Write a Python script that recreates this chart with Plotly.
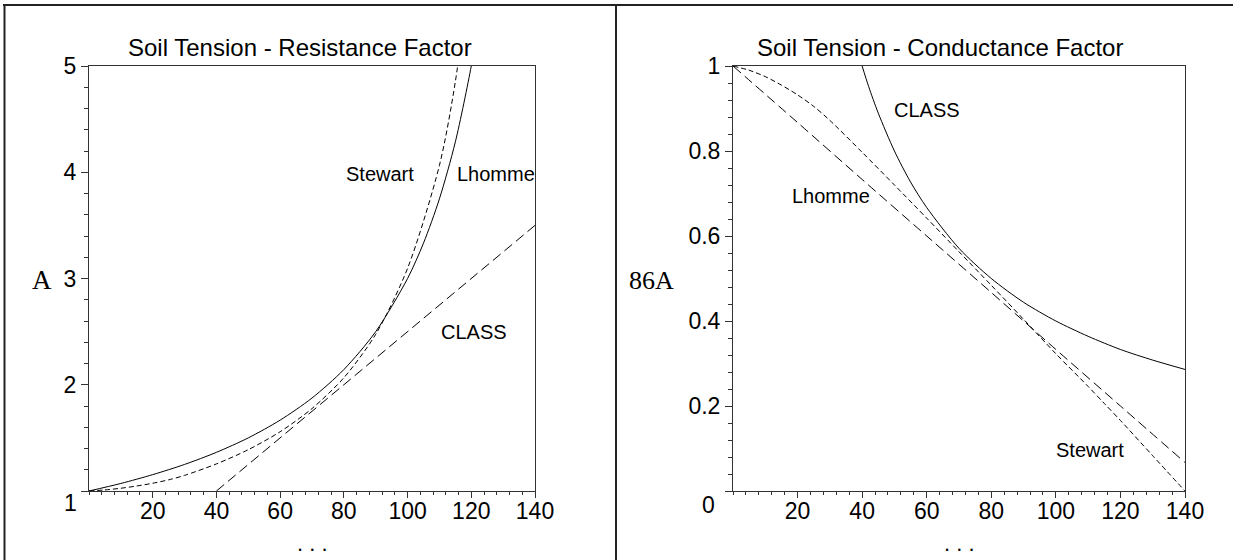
import plotly.graph_objects as go

W, H = 1233, 560
SANS = "Liberation Sans, Arial, Helvetica, sans-serif"
SERIF = "Liberation Serif, Times New Roman, serif"

# ---------------- data ----------------
# Left panel: Soil Tension - Resistance Factor
res_lhomme_x = [0, 10, 20, 30, 40, 50, 60, 70, 80, 90, 100, 105, 110, 115, 120, 122]
res_lhomme_y = [1.0, 1.071, 1.154, 1.25, 1.364, 1.5, 1.667, 1.875, 2.143, 2.5, 3.0, 3.333, 3.75, 4.286, 5.0, 5.36]

res_stewart_x = [0, 5, 10, 15, 20, 25, 30, 40, 50, 60, 70, 80, 90, 100, 110, 115, 120]
res_stewart_y = [1.0, 1.01, 1.026, 1.047, 1.073, 1.105, 1.147, 1.255, 1.389, 1.558, 1.776, 2.066, 2.475, 3.096, 4.065, 4.854, 6.02]

res_class_x = [40, 140]
res_class_y = [1.0, 3.5]

# Right panel: Soil Tension - Conductance Factor
con_class_x = [40, 42, 45, 50, 55, 60, 70, 80, 90, 100, 110, 120, 130, 140]
con_class_y = [1.0, 0.952, 0.889, 0.8, 0.727, 0.667, 0.571, 0.5, 0.444, 0.4, 0.364, 0.333, 0.308, 0.286]

con_lhomme_x = [0, 20, 40, 60, 80, 100, 120, 140]
con_lhomme_y = [1.0, 0.867, 0.733, 0.6, 0.467, 0.333, 0.2, 0.067]

con_stewart_x = [0, 5, 10, 15, 20, 25, 30, 40, 50, 60, 70, 80, 90, 100, 110, 115, 120, 130, 140]
con_stewart_y = [1.0, 0.99, 0.975, 0.955, 0.932, 0.905, 0.872, 0.797, 0.72, 0.642, 0.563, 0.484, 0.404, 0.323, 0.246, 0.206, 0.166, 0.083, 0.0]

x_ticks = [20, 40, 60, 80, 100, 120, 140]
left_y_ticks = [1, 2, 3, 4, 5]
left_y_text = ["", "2", "3", "4", "5"]
right_y_ticks = [0, 0.2, 0.4, 0.6, 0.8, 1]
right_y_text = ["", "0.2", "0.4", "0.6", "0.8", "1"]

titles = ["Soil Tension - Resistance Factor", "Soil Tension - Conductance Factor"]
y_titles = ["A", "86A"]

# ---------------- figure ----------------
fig = go.Figure()


def line(x, y, dash, xa, ya):
    fig.add_trace(go.Scatter(
        x=x, y=y, mode="lines", xaxis=xa, yaxis=ya, showlegend=False,
        hoverinfo="skip",
        line=dict(color="black", width=1, dash=dash, shape="spline", smoothing=0.8),
    ))


line(res_lhomme_x, res_lhomme_y, "solid", "x", "y")
line(res_stewart_x, res_stewart_y, "5px,3px", "x", "y")
line(res_class_x, res_class_y, "10px,5px", "x", "y")

line(con_class_x, con_class_y, "solid", "x2", "y2")
line(con_lhomme_x, con_lhomme_y, "10px,5px", "x2", "y2")
line(con_stewart_x, con_stewart_y, "5px,3px", "x2", "y2")


def px(v):
    return v / W


def py(v):
    return 1 - v / H


AX = "#333333"
common = dict(showline=True, linecolor=AX, linewidth=1, mirror=True, ticks="outside",
              tickcolor=AX, tickwidth=1, showgrid=False, zeroline=False, automargin=False,
              tickfont=dict(family=SANS, size=23, color="black"), fixedrange=True)

top, bottom = 66, 491
ydom = [py(bottom), py(top)]

fig.update_layout(
    width=W, height=H, autosize=False,
    margin=dict(l=0, r=0, t=0, b=0, pad=0, autoexpand=False),
    paper_bgcolor="white", plot_bgcolor="white",
    showlegend=False,
    xaxis=dict(domain=[px(89), px(535)], range=[0, 140], anchor="y",
               tickvals=x_ticks, ticklen=6, ticklabelstandoff=-7,
               minor=dict(tick0=0, dtick=4, ticklen=3, ticks="outside", tickcolor=AX),
               **common),
    yaxis=dict(domain=ydom, range=[1, 5], anchor="x",
               tickvals=left_y_ticks, ticktext=left_y_text, ticklen=7,
               minor=dict(tick0=0, dtick=0.2, ticklen=4, ticks="outside", tickcolor=AX),
               **common),
    xaxis2=dict(domain=[px(733), px(1185)], range=[0, 140], anchor="y2",
                tickvals=x_ticks, ticklen=6, ticklabelstandoff=-7,
                minor=dict(tick0=0, dtick=4, ticklen=3, ticks="outside", tickcolor=AX),
                **common),
    yaxis2=dict(domain=ydom, range=[0, 1], anchor="x2",
                tickvals=right_y_ticks, ticktext=right_y_text, ticklen=7,
                minor=dict(tick0=0, dtick=0.04, ticklen=4, ticks="outside", tickcolor=AX),
                **common),
)

ann = []


def txt(text, x, y, size, family=SANS, xref="paper", yref="paper", **kw):
    ann.append(dict(text=text, x=x, y=y, xref=xref, yref=yref, showarrow=False,
                    font=dict(family=family, size=size, color="black"),
                    xanchor=kw.get("xanchor", "center"), yanchor="middle"))


# panel titles
txt(titles[0], px(300), py(47), 24)
txt(titles[1], px(940), py(47), 24)
# y-axis titles
txt(y_titles[0], px(42), py(280), 27, family=SERIF)
txt(y_titles[1], px(652), py(280), 26, family=SERIF)
# lowest y tick labels (placed below, as in the original)
txt("1", px(70), py(503), 23)
txt("0", px(708), py(505), 23)
# x-axis titles
txt(". . .", px(312), py(543), 22)
txt(". . .", px(959), py(543), 22)
# curve labels
txt("Stewart", 91.2, 3.98, 20, xref="x", yref="y")
txt("Lhomme", 127.7, 3.98, 20, xref="x", yref="y")
txt("CLASS", 120.8, 2.5, 20, xref="x", yref="y")
txt("CLASS", 60.2, 0.896, 20, xref="x2", yref="y2")
txt("Lhomme", 30.3, 0.695, 20, xref="x2", yref="y2")
txt("Stewart", 110.5, 0.0965, 20, xref="x2", yref="y2")

fig.update_layout(annotations=ann)

# outer frame and divider
FR = "#222222"
fig.update_layout(shapes=[
    dict(type="line", xref="paper", yref="paper", x0=px(3), x1=1, y0=py(5), y1=py(5),
         line=dict(color=FR, width=2)),
    dict(type="line", xref="paper", yref="paper", x0=px(4.5), x1=px(4.5), y0=0, y1=py(4),
         line=dict(color=FR, width=2)),
    dict(type="line", xref="paper", yref="paper", x0=px(616), x1=px(616), y0=0, y1=py(4),
         line=dict(color=FR, width=2)),
])

fig.write_html("out.html")
